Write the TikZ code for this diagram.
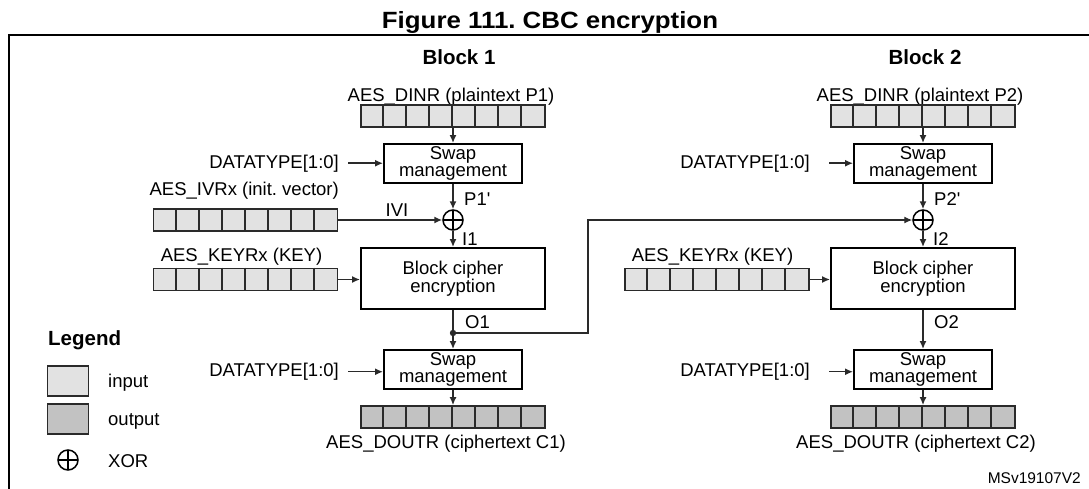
\documentclass[tikz,border=0pt]{standalone}
\usepackage{fontspec}
\setmainfont{Liberation Sans}
\newfontfamily\titlefont[FakeStretch=1.1]{Liberation Sans}
\usepackage{xcolor}
\usepackage{tikz}
\usetikzlibrary{calc}
\usetikzlibrary{arrows.meta}
\usetikzlibrary{positioning}
\definecolor{ingray}{HTML}{E2E2E2}
\definecolor{outgray}{HTML}{C2C2C2}
\definecolor{linegray}{HTML}{2A2A2A}
\tikzset{>={Latex[length=8pt,width=7pt]}}
\tikzstyle{lbl} = [inner sep=0pt, anchor=base, font=\fontsize{18.5}{20}\selectfont]
\tikzstyle{head} = [inner sep=0pt, anchor=base, font=\fontsize{20.5}{22}\selectfont\bfseries]
\tikzstyle{box} = [rectangle, draw=black, line width=1.9pt, minimum width=138pt, minimum height=39pt, inner sep=0pt, align=center, font=\fontsize{18.5}{17}\selectfont]
\tikzstyle{cipher} = [box, minimum width=184pt, minimum height=61pt]
\tikzstyle{reg} = [rectangle, draw=linegray, line width=1.7pt, minimum width=184pt, minimum height=22pt, inner sep=0pt]
\tikzstyle{xor} = [circle, draw=black, line width=1.5pt, minimum size=20pt, inner sep=0pt,
  path picture={\draw[line width=1.5pt] (path picture bounding box.north) -- (path picture bounding box.south)
  (path picture bounding box.west) -- (path picture bounding box.east);}]
\tikzstyle{flow} = [->, line width=1.5pt, draw=linegray]
\newcommand{\regcells}[1]{\foreach \k in {1,...,7} {\draw[linegray, line width=1.7pt] ([xshift=\k*23pt]#1.north west) -- ([xshift=\k*23pt]#1.south west);}}
\frenchspacing

\begin{document}
\begin{tikzpicture}[x=1pt, y=-1pt]
\useasboundingbox (0,0) rectangle (1089,488);
\node [inner sep=0pt, anchor=base, font={\titlefont\fontsize{23.5}{26}\selectfont\bfseries}] (title) at (550,28) {Figure 111. CBC encryption};
\draw [line width=2.7pt] (9,490) -- (9,35) -- (1092,35);

% block 1
\node [head] (blk1) at (459,64) {Block 1};
\node [lbl] (dinlbl1) at (451,101) {AES\_DINR (plaintext P1)};
\node [reg, fill=ingray] (din1) at (453,116) {};
\regcells{din1}
\node [box] (swapin1) at (453,163.5) {Swap\\management};
\node [lbl, anchor=base east] (dt1) at (339,168) {DATATYPE[1:0]};
\node [lbl, anchor=base east] (ivlbl) at (339,195) {AES\_IVRx (init. vector)};
\node [reg, fill=ingray] (ivr) at (245.5,220) {};
\regcells{ivr}
\node [xor] (xor1) at (453,220) {};
\node [lbl] (ivi) at (397,216) {IVI};
\node [lbl, anchor=base west] (p1) at (464,205) {P1\textquotesingle};
\node [lbl, anchor=base west] (i1) at (462,245) {I1};
\node [cipher] (enc1) at (453,278.5) {Block cipher\\encryption};
\node [lbl] (keylbl1) at (241.5,261.5) {AES\_KEYRx (KEY)};
\node [reg, fill=ingray] (key1) at (245.5,279.5) {};
\regcells{key1}
\node [lbl, anchor=base west] (o1) at (465,328) {O1};
\coordinate (split) at (453,333);
\coordinate (fb) at (588,220);
\node [box] (swapout1) at (453,369.5) {Swap\\management};
\node [lbl, anchor=base east] (dt2) at (339,376.5) {DATATYPE[1:0]};
\node [reg, fill=outgray] (dout1) at (453,417) {};
\regcells{dout1}
\node [lbl] (doutlbl1) at (446,448) {AES\_DOUTR (ciphertext C1)};

\draw [flow] (din1.south) -- (swapin1.north);
\draw [flow] ([xshift=9pt]dt1.east) -- (dt1.east -| swapin1.west);
\draw [flow] (swapin1.south) -- (xor1.north);
\draw [flow] (ivr.east) -- (xor1.west);
\draw [flow] (xor1.south) -- (enc1.north);
\draw [flow] (key1.east) -- (key1.east -| enc1.west);
\draw [line width=1.5pt, draw=linegray] (enc1.south) -- (split);
\fill [linegray] (split) circle (3.2pt);
\draw [flow] (split) -- (swapout1.north);
\draw [flow] ([xshift=9pt]dt2.east) -- (dt2.east -| swapout1.west);
\draw [flow] (swapout1.south) -- (dout1.north);

% block 2
\node [head] (blk2) at (925,64) {Block 2};
\node [lbl] (dinlbl2) at (920,101) {AES\_DINR (plaintext P2)};
\node [reg, fill=ingray] (din2) at (923,116) {};
\regcells{din2}
\node [box] (swapin2) at (923,163.5) {Swap\\management};
\node [lbl, anchor=base east] (dt3) at (810,168) {DATATYPE[1:0]};
\node [xor] (xor2) at (923,220) {};
\node [lbl, anchor=base west] (p2) at (934,205) {P2\textquotesingle};
\node [lbl, anchor=base west] (i2) at (933,245) {I2};
\node [cipher] (enc2) at (923,278.5) {Block cipher\\encryption};
\node [lbl] (keylbl2) at (712.5,261.5) {AES\_KEYRx (KEY)};
\node [reg, fill=ingray] (key2) at (717,279.5) {};
\regcells{key2}
\node [lbl, anchor=base west] (o2) at (934,328) {O2};
\node [box] (swapout2) at (923,369.5) {Swap\\management};
\node [lbl, anchor=base east] (dt4) at (810,376.5) {DATATYPE[1:0]};
\node [reg, fill=outgray] (dout2) at (923,417) {};
\regcells{dout2}
\node [lbl] (doutlbl2) at (916,448) {AES\_DOUTR (ciphertext C2)};

\draw [flow] (din2.south) -- (swapin2.north);
\draw [flow] ([xshift=19pt]dt3.east) -- (dt3.east -| swapin2.west);
\draw [flow] (swapin2.south) -- (xor2.north);
\draw [flow, line width=1.2pt] (split) -| (fb) -- (xor2.west);
\draw [flow] (xor2.south) -- (enc2.north);
\draw [flow] (key2.east) -- (key2.east -| enc2.west);
\draw [flow] (enc2.south) -- (swapout2.north);
\draw [flow] ([xshift=19pt]dt4.east) -- (dt4.east -| swapout2.west);
\draw [flow] (swapout2.south) -- (dout2.north);

% legend
\node [head, anchor=base west] (leg) at (48,345) {Legend};
\node [rectangle, draw=linegray, fill=ingray, line width=1.7pt, minimum width=41pt, minimum height=30pt] (legin) at (68,381) {};
\node [lbl, anchor=base west] (leginlbl) at (108,387) {input};
\node [rectangle, draw=linegray, fill=outgray, line width=1.7pt, minimum width=41pt, minimum height=30pt] (legout) at (68,419) {};
\node [lbl, anchor=base west] (legoutlbl) at (108,425) {output};
\node [xor] (legxor) at (68,460) {};
\node [lbl, anchor=base west] (legxorlbl) at (108,467) {XOR};

\node [inner sep=0pt, anchor=base east, font=\fontsize{15.5}{17}\selectfont] (msv) at (1081,483) {MSv19107V2};
\end{tikzpicture}
\end{document}
